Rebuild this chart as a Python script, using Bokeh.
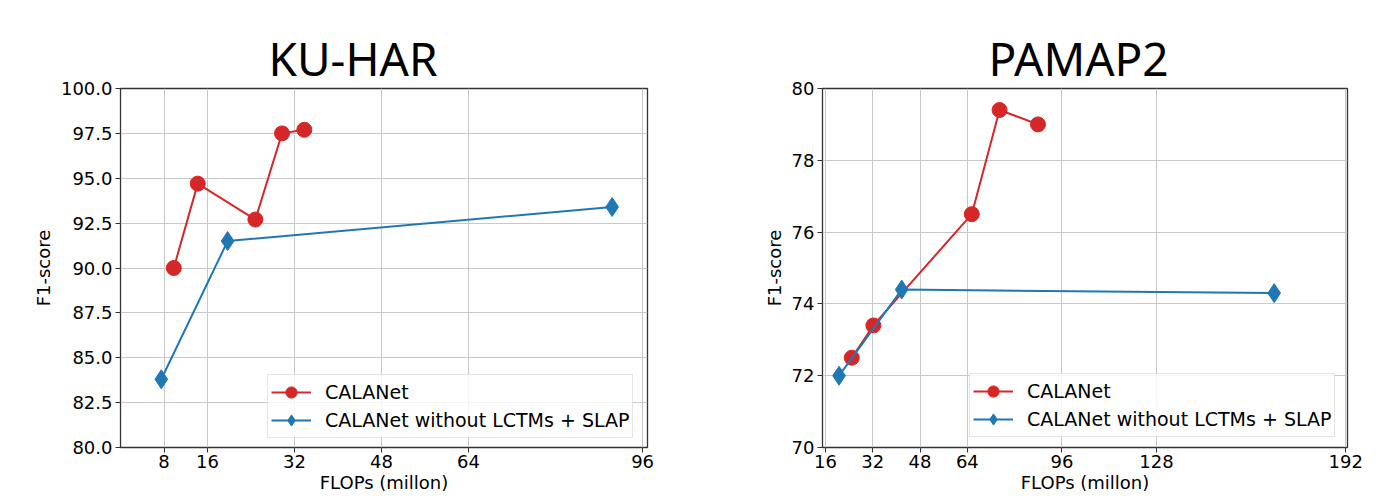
from bokeh.plotting import figure
from bokeh.models import (Range1d, FixedTicker, PrintfTickFormatter, Legend, LegendItem,
                          LinearAxis)
from bokeh.layouts import row
from bokeh.embed import file_html
from bokeh.resources import INLINE

# ---- data ----
ku_title = "KU-HAR"
pa_title = "PAMAP2"
x_label = "FLOPs (millon)"
y_label = "F1-score"
series_names = ["CALANet", "CALANet without LCTMs + SLAP"]

ku_red_x = [9.8, 14.2, 24.8, 29.7, 33.8]
ku_red_y = [90.0, 94.7, 92.7, 97.5, 97.7]
ku_blue_x = [7.5, 19.7, 90.4]
ku_blue_y = [83.8, 91.5, 93.4]
ku_xticks = [8, 16, 32, 48, 64, 96]
ku_yticks = [80.0, 82.5, 85.0, 87.5, 90.0, 92.5, 95.0, 97.5, 100.0]

pa_red_x = [24.9, 32.2, 65.5, 74.9, 87.9]
pa_red_y = [72.5, 73.4, 76.5, 79.4, 79.0]
pa_blue_x = [20.6, 41.8, 167.8]
pa_blue_y = [72.0, 74.4, 74.3]
pa_xticks = [16, 32, 48, 64, 96, 128, 192]
pa_yticks = [70, 72, 74, 76, 78, 80]

RED = "#d62728"
BLUE = "#1f77b4"
FONT = "DejaVu Sans"


def make_fig(title, title_off, xr, yr, xticks, yticks, yfmt, rx, ry, bx, by,
             width, mbl, mbr, mbt, mbb, legend_loc):
    p = figure(width=width, height=500, output_backend="svg", toolbar_location=None,
               x_range=Range1d(*xr), y_range=Range1d(*yr),
               min_border_left=mbl, min_border_right=mbr,
               min_border_top=mbt, min_border_bottom=mbb)
    p.outline_line_color = "#333333"
    p.outline_line_width = 1.3
    p.background_fill_color = "white"
    p.border_fill_color = "white"

    xax = p.below[0]
    yax = p.left[0]

    # empty spacer axis between title and frame
    spacer = LinearAxis(ticker=FixedTicker(ticks=[]), major_tick_out=25, major_tick_in=0,
                        major_label_standoff=0, axis_line_color=None,
                        major_label_text_font_size="0px",
                        major_tick_line_color=None, minor_tick_line_color=None)
    p.add_layout(spacer, "above")

    p.title.text = title
    p.title.align = "left"
    p.title.offset = title_off
    p.title.standoff = 0
    p.title.vertical_align = "bottom"
    p.title.text_font = "Noto Sans"
    p.title.text_font_size = "46px"
    p.title.text_font_style = "normal"
    p.title.text_color = "black"

    xax.ticker = FixedTicker(ticks=xticks)
    yax.ticker = FixedTicker(ticks=yticks)
    xax.formatter = PrintfTickFormatter(format="%d")
    yax.formatter = PrintfTickFormatter(format=yfmt)
    for ax in (xax, yax):
        ax.axis_line_color = None
        ax.major_tick_out = 5
        ax.major_tick_in = 0
        ax.major_tick_line_color = "#333333"
        ax.major_tick_line_width = 1
        ax.minor_tick_line_color = None
        ax.major_label_text_font = FONT
        ax.major_label_text_font_size = "18px"
        ax.major_label_text_color = "black"
        ax.axis_label_text_font = FONT
        ax.axis_label_text_font_size = "18px"
        ax.axis_label_text_font_style = "normal"
        ax.axis_label_text_color = "black"
    xax.axis_label = x_label
    yax.axis_label = y_label
    xax.major_label_standoff = 2
    xax.axis_label_standoff = 1
    yax.major_label_standoff = 3
    yax.axis_label_standoff = 4

    p.xgrid.ticker = FixedTicker(ticks=xticks)
    p.ygrid.ticker = FixedTicker(ticks=yticks)
    p.grid.grid_line_color = "#c8c8c8"
    p.grid.grid_line_width = 1

    rl = p.line(rx, ry, line_color=RED, line_width=2)
    rs = p.scatter(rx, ry, marker="circle", size=15, fill_color=RED, line_color=RED)
    bl = p.line(bx, by, line_color=BLUE, line_width=2)
    bs = p.scatter(bx, by, marker="diamond", size=19, fill_color=BLUE, line_color=BLUE)

    legend = Legend(items=[LegendItem(label=series_names[0], renderers=[rl, rs]),
                           LegendItem(label=series_names[1], renderers=[bl, bs])],
                    location=legend_loc)
    legend.label_text_font = FONT
    legend.label_text_font_size = "19px"
    legend.label_text_color = "black"
    legend.glyph_width = 40
    legend.glyph_height = 28
    legend.label_height = 22
    legend.label_standoff = 14
    legend.spacing = 0
    legend.padding = 3
    legend.margin = 0
    legend.border_line_color = "#cccccc"
    legend.border_line_width = 1
    legend.background_fill_color = "white"
    legend.background_fill_alpha = 0.8
    p.add_layout(legend, "center")
    return p


p1 = make_fig(ku_title, 148, (0, 96.9), (80, 100), ku_xticks, ku_yticks, "%.1f",
              ku_red_x, ku_red_y, ku_blue_x, ku_blue_y,
              width=667, mbl=120, mbr=20, mbt=88, mbb=52, legend_loc=(147, 9))
p2 = make_fig(pa_title, 166, (15.0, 192.6), (70, 80), pa_xticks, pa_yticks, "%d",
              pa_red_x, pa_red_y, pa_blue_x, pa_blue_y,
              width=700, mbl=155, mbr=20, mbt=87, mbb=53, legend_loc=(147, 10))

layout = row(p1, p2)
open("out.html", "w").write(file_html(layout, INLINE))
